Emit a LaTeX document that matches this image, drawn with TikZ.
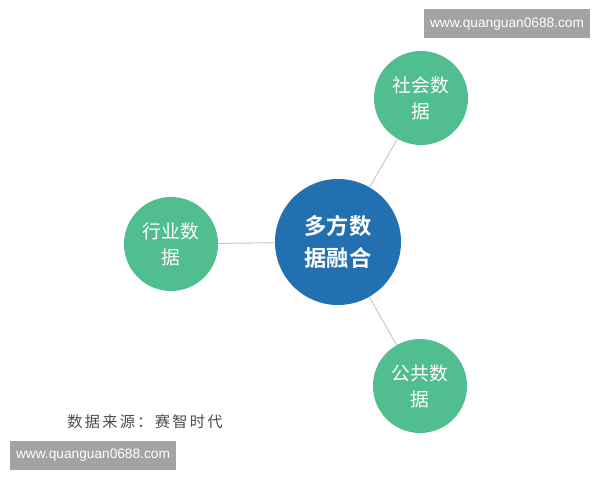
\documentclass[tikz,border=0pt]{standalone}
\usepackage{fontspec}
\usepackage{xcolor}
\setmainfont{Liberation Sans}
\newfontfamily\cjk{Noto Sans CJK SC}
\newfontfamily\cjkbold{Noto Sans CJK SC Bold}
\newfontfamily\srcfont[LetterSpace=15]{Noto Sans CJK SC}
\definecolor{fusion}{RGB}{34,112,176}
\definecolor{source}{RGB}{80,190,142}
\definecolor{link}{RGB}{200,200,200}
\definecolor{stamp}{RGB}{163,163,163}
\tikzstyle{hub}=[circle, fill=fusion, minimum size=3.78cm, inner sep=0pt, text=white, align=center,
  font=\cjkbold\fontsize{19}{27}\selectfont]
\tikzstyle{data}=[circle, fill=source, minimum size=2.82cm, inner sep=0pt, text=white, align=center,
  font=\cjk\fontsize{16}{22}\selectfont]
\tikzstyle{stampbox}=[fill=stamp, text=white, minimum width=4.98cm, minimum height=0.87cm, inner sep=0pt,
  font=\fontsize{11.7}{13}\selectfont]
\begin{document}
\begin{tikzpicture}[x=0.03cm,y=-0.03cm]
  \useasboundingbox[fill=white] (0,0) rectangle (600,480);

  \draw (338,242) node[hub] (P0) {多方数\\据融合};
  \draw (421,98) node[data] (P1) {社会数\\据};
  \draw (171,244) node[data] (P2) {行业数\\据};
  \draw (420,386) node[data] (P3) {公共数\\据};

  \draw[link, line width=0.8pt] (P0) -- (P1);
  \draw[link, line width=0.8pt] (P0) -- (P2);
  \draw[link, line width=0.8pt] (P0) -- (P3);

  %% Source and stamps
  \draw (145,422) node[text=black!70, font=\srcfont\fontsize{13}{14}\selectfont] (src) {数据来源：赛智时代};
  \draw (507,24) node[stampbox] (W1) {www.quanguan0688.com};
  \draw (93,455) node[stampbox] (W2) {www.quanguan0688.com};
\end{tikzpicture}
\end{document}
